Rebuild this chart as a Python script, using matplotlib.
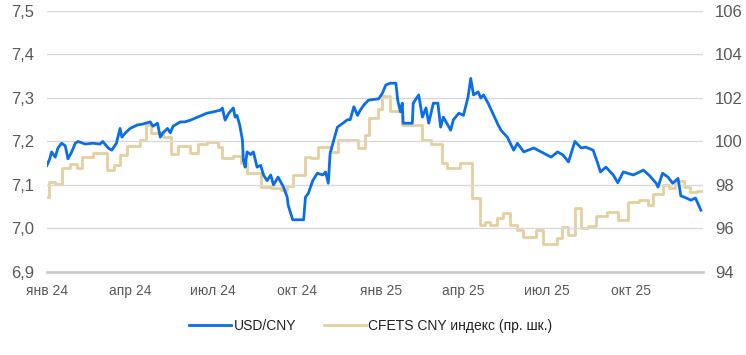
import matplotlib
matplotlib.use("Agg")
import matplotlib.pyplot as plt
import matplotlib.dates as mdates
from matplotlib.ticker import FuncFormatter, FixedLocator
import pandas as pd

plt.rcParams["font.family"] = ["Liberation Sans", "DejaVu Sans"]

# USD/CNY (left axis)
usd_dates = [
    "2024-01-01", "2024-01-04", "2024-01-06", "2024-01-10", "2024-01-13", "2024-01-17",
    "2024-01-21", "2024-01-24", "2024-01-28", "2024-02-01", "2024-02-04", "2024-02-12",
    "2024-02-20", "2024-02-28", "2024-03-02", "2024-03-08", "2024-03-12", "2024-03-17",
    "2024-03-21", "2024-03-23", "2024-03-27", "2024-04-01", "2024-04-09", "2024-04-15",
    "2024-04-23", "2024-04-26", "2024-05-01", "2024-05-04", "2024-05-07", "2024-05-12",
    "2024-05-15", "2024-05-18", "2024-05-26", "2024-05-31", "2024-06-06", "2024-06-14",
    "2024-06-24", "2024-07-01", "2024-07-09", "2024-07-11", "2024-07-14", "2024-07-18",
    "2024-07-23", "2024-07-25", "2024-07-27", "2024-07-30", "2024-08-02", "2024-08-03",
    "2024-08-05", "2024-08-07", "2024-08-11", "2024-08-14", "2024-08-18", "2024-08-22",
    "2024-08-25", "2024-08-29", "2024-09-02", "2024-09-05", "2024-09-10", "2024-09-16",
    "2024-09-20", "2024-09-21", "2024-09-26", "2024-09-29", "2024-10-08", "2024-10-10",
    "2024-10-13", "2024-10-18", "2024-10-23", "2024-10-29", "2024-11-01", "2024-11-04",
    "2024-11-06", "2024-11-10", "2024-11-14", "2024-11-20", "2024-11-25", "2024-11-28",
    "2024-12-02", "2024-12-06", "2024-12-09", "2024-12-13", "2024-12-18", "2024-12-29",
    "2025-01-02", "2025-01-06", "2025-01-11", "2025-01-17", "2025-01-19", "2025-01-22",
    "2025-01-24", "2025-01-25", "2025-02-04", "2025-02-05", "2025-02-11", "2025-02-15",
    "2025-02-19", "2025-02-22", "2025-02-27", "2025-03-04", "2025-03-07", "2025-03-10",
    "2025-03-18", "2025-03-21", "2025-03-27", "2025-04-01", "2025-04-06", "2025-04-09",
    "2025-04-12", "2025-04-17", "2025-04-20", "2025-04-23", "2025-04-28", "2025-05-03",
    "2025-05-09", "2025-05-12", "2025-05-19", "2025-05-26", "2025-05-30", "2025-06-06",
    "2025-06-17", "2025-06-28", "2025-07-06", "2025-07-13", "2025-07-19", "2025-07-25",
    "2025-08-01", "2025-08-08", "2025-08-13", "2025-08-21", "2025-08-26", "2025-08-29",
    "2025-09-04", "2025-09-12", "2025-09-17", "2025-09-23", "2025-10-04", "2025-10-15",
    "2025-10-21", "2025-10-29", "2025-10-31", "2025-11-05", "2025-11-11", "2025-11-16",
    "2025-11-22", "2025-11-25", "2025-12-01", "2025-12-06", "2025-12-11", "2025-12-17",
]
usd_cny = [
    7.145, 7.160, 7.176, 7.164, 7.185, 7.196,
    7.190, 7.160, 7.176, 7.196, 7.200, 7.194,
    7.196, 7.194, 7.200, 7.185, 7.180, 7.196,
    7.230, 7.210, 7.220, 7.230, 7.238, 7.240,
    7.245, 7.235, 7.242, 7.210, 7.220, 7.230,
    7.220, 7.235, 7.245, 7.245, 7.249, 7.256,
    7.265, 7.268, 7.272, 7.277, 7.249, 7.265,
    7.277, 7.256, 7.260, 7.238, 7.203, 7.157,
    7.141, 7.176, 7.170, 7.176, 7.141, 7.145,
    7.123, 7.110, 7.123, 7.100, 7.118, 7.095,
    7.072, 7.054, 7.020, 7.020, 7.020, 7.072,
    7.080, 7.110, 7.127, 7.123, 7.130, 7.104,
    7.173, 7.203, 7.233, 7.242, 7.250, 7.250,
    7.280, 7.260, 7.272, 7.284, 7.295, 7.298,
    7.310, 7.330, 7.334, 7.334, 7.295, 7.268,
    7.288, 7.242, 7.242, 7.288, 7.307, 7.256,
    7.277, 7.242, 7.288, 7.288, 7.233, 7.256,
    7.226, 7.250, 7.265, 7.260, 7.302, 7.345,
    7.307, 7.314, 7.300, 7.307, 7.288, 7.265,
    7.238, 7.226, 7.210, 7.180, 7.196, 7.176,
    7.185, 7.173, 7.164, 7.176, 7.169, 7.153,
    7.200, 7.185, 7.187, 7.180, 7.150, 7.130,
    7.141, 7.123, 7.105, 7.130, 7.123, 7.134,
    7.123, 7.104, 7.095, 7.127, 7.118, 7.104,
    7.115, 7.075, 7.070, 7.065, 7.070, 7.042,
]

# CFETS CNY index (right axis), step changes
cfets_dates = [
    "2024-01-01", "2024-01-03", "2024-01-10", "2024-01-17", "2024-01-26", "2024-02-03",
    "2024-02-08", "2024-02-20", "2024-03-07", "2024-03-14", "2024-03-21", "2024-03-29",
    "2024-04-12", "2024-04-18", "2024-04-24", "2024-05-01", "2024-05-07", "2024-05-16",
    "2024-05-23", "2024-06-06", "2024-06-14", "2024-06-24", "2024-07-06", "2024-07-11",
    "2024-07-23", "2024-07-31", "2024-08-07", "2024-08-22", "2024-09-02", "2024-09-13",
    "2024-09-20", "2024-09-26", "2024-10-10", "2024-10-16", "2024-10-24", "2024-11-07",
    "2024-11-15", "2024-12-06", "2024-12-14", "2024-12-19", "2024-12-28", "2025-01-02",
    "2025-01-11", "2025-01-24", "2025-02-15", "2025-02-24", "2025-03-09", "2025-03-14",
    "2025-03-28", "2025-04-10", "2025-04-19", "2025-04-25", "2025-04-30", "2025-05-08",
    "2025-05-14", "2025-05-22", "2025-05-30", "2025-06-05", "2025-06-19", "2025-06-27",
    "2025-07-12", "2025-07-18", "2025-07-25", "2025-08-01", "2025-08-08", "2025-08-15",
    "2025-08-24", "2025-09-05", "2025-09-17", "2025-09-28", "2025-10-10", "2025-10-20",
    "2025-10-25", "2025-11-06", "2025-11-12", "2025-11-19", "2025-11-28", "2025-12-05",
    "2025-12-13", "2025-12-18",
]
cfets = [
    97.44, 98.13, 98.04, 98.77, 98.98, 98.80,
    99.28, 99.45, 98.70, 98.90, 99.40, 99.80,
    100.07, 100.76, 100.40, 100.45, 100.20, 99.42,
    99.80, 99.45, 99.90, 99.97, 99.75, 99.24,
    99.33, 99.00, 98.55, 97.90, 97.86, 97.77,
    97.95, 98.46, 99.30, 99.24, 99.75, 99.50,
    100.07, 99.70, 100.30, 101.10, 101.50, 102.10,
    101.40, 100.76, 100.07, 99.90, 99.00, 98.80,
    99.00, 97.40, 96.16, 96.30, 96.16, 96.50,
    96.70, 96.16, 95.93, 95.60, 95.93, 95.30,
    95.56, 96.07, 95.70, 96.93, 96.00, 96.10,
    96.57, 96.76, 96.39, 97.20, 97.30, 97.08,
    97.58, 98.00, 97.86, 98.20, 97.90, 97.67,
    97.72, 97.72,
]

tick_dates = ["2024-01-01", "2024-04-01", "2024-07-01", "2024-10-01",
              "2025-01-01", "2025-04-01", "2025-07-01", "2025-10-01"]
tick_labels = ["янв 24", "апр 24", "июл 24", "окт 24",
               "янв 25", "апр 25", "июл 25", "окт 25"]

BLUE = "#0a6ee8"
SAND = "#e6cf9f"
GRAY = "#595959"

fig = plt.figure(figsize=(7.46, 3.55), dpi=100)
ax = fig.add_axes([0.063, 0.234, 0.879, 0.735])
ax2 = ax.twinx()

ax2.plot(pd.to_datetime(cfets_dates), cfets, color=SAND, lw=2.0,
         drawstyle="steps-post", label="CFETS CNY индекс (пр. шк.)")
ax.plot(pd.to_datetime(usd_dates), usd_cny, color=BLUE, lw=2.0, label="USD/CNY")

ax.set_zorder(ax2.get_zorder() + 1)
ax.patch.set_visible(False)

ax.set_ylim(6.9, 7.5)
ax.set_yticks([6.9, 7.0, 7.1, 7.2, 7.3, 7.4, 7.5])
ax.yaxis.set_major_formatter(FuncFormatter(lambda v, p: f"{v:.1f}".replace(".", ",")))
ax2.set_ylim(94, 106)
ax2.set_yticks([94, 96, 98, 100, 102, 104, 106])

ax.set_xlim(pd.Timestamp("2024-01-01"), pd.Timestamp("2025-12-19"))
ax.xaxis.set_major_locator(FixedLocator(mdates.date2num(pd.to_datetime(tick_dates))))
ax.set_xticklabels(tick_labels)

ax.grid(axis="y", color="#d9d9d9", lw=1)
for a in (ax, ax2):
    for s in ("top", "left", "right", "bottom"):
        a.spines[s].set_visible(False)
    a.tick_params(length=0)
ax.axhline(6.9, color="#cccccc", lw=2, zorder=0, clip_on=False)

ax.tick_params(axis="y", labelsize=12, labelcolor=GRAY, pad=9)
ax2.tick_params(axis="y", labelsize=12, labelcolor=GRAY, pad=9)
ax.tick_params(axis="x", labelsize=10, labelcolor=GRAY, pad=9)

h1, l1 = ax.get_legend_handles_labels()
h2, l2 = ax2.get_legend_handles_labels()
fig.legend(h1 + h2, l1 + l2, loc="center", bbox_to_anchor=(0.497, 0.083), ncol=2,
           frameon=False, fontsize=10, handlelength=3.0, handletextpad=0.2,
           columnspacing=2.0, labelcolor="#222222")

fig.savefig("out.png", dpi=100)
